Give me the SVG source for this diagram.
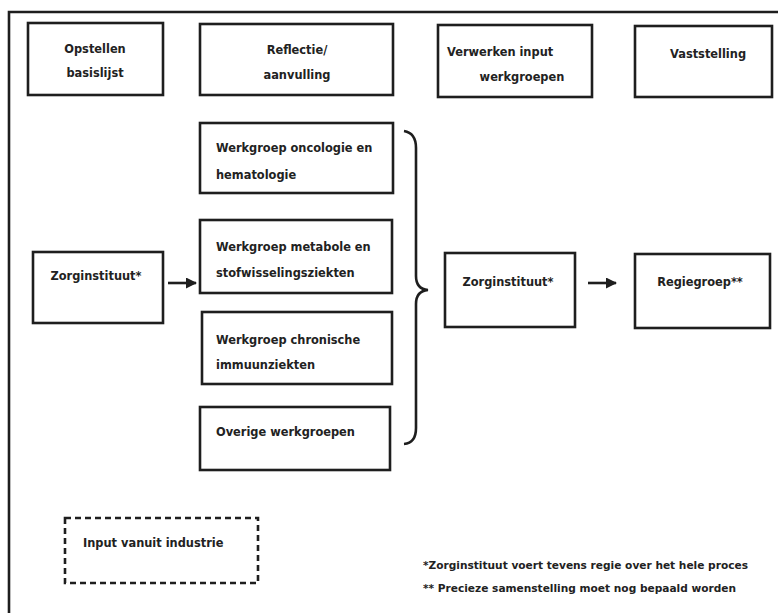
<svg xmlns="http://www.w3.org/2000/svg" width="778" height="613" viewBox="0 0 778 613">
<style>
.box{fill:#fff;stroke:#1e1e1e;stroke-width:2.6}
.dash{fill:#fff;stroke:#1e1e1e;stroke-width:2.6;stroke-dasharray:6 4}
.t{font-family:"DejaVu Sans","Liberation Sans",sans-serif;font-weight:bold;font-size:11.4px;fill:#222}
.c{text-anchor:middle}
.f{font-family:"DejaVu Sans","Liberation Sans",sans-serif;font-weight:bold;font-size:10.6px;fill:#222}
.ln{fill:none;stroke:#1e1e1e;stroke-width:2.6}
</style>
<defs>
<marker id="ah" markerWidth="11" markerHeight="11" refX="10" refY="5.5" orient="auto" markerUnits="userSpaceOnUse" viewBox="0 0 11 11">
<path d="M0,0 L11,5.5 L0,11 Z" fill="#1e1e1e"/>
</marker>
</defs>
<rect width="778" height="613" fill="#fff"/>
<g id="frame">
<path class="ln" d="M9,613 L9,12 L778,12"/>
</g>
<g id="h1"><rect class="box" x="28" y="23" width="135" height="72"/><text class="t c" x="95" y="53">Opstellen</text><text class="t c" x="95" y="77">basislijst</text></g>
<g id="h2"><rect class="box" x="200" y="24" width="193" height="71"/><text class="t c" x="297" y="54">Reflectie/</text><text class="t c" x="297" y="79">aanvulling</text></g>
<g id="h3"><rect class="box" x="438" y="25" width="154" height="72"/><text class="t" x="447" y="56">Verwerken input</text><text class="t c" x="522" y="81">werkgroepen</text></g>
<g id="h4"><rect class="box" x="635" y="26" width="137" height="71"/><text class="t" x="670" y="58">Vaststelling</text></g>
<g id="wg1"><rect class="box" x="200" y="123" width="193" height="70"/><text class="t" x="216" y="152">Werkgroep oncologie en</text><text class="t" x="216" y="179">hematologie</text></g>
<g id="wg2"><rect class="box" x="200" y="220" width="192" height="73"/><text class="t" x="216" y="251">Werkgroep metabole en</text><text class="t" x="216" y="277">stofwisselingsziekten</text></g>
<g id="wg3"><rect class="box" x="202" y="312" width="190" height="72"/><text class="t" x="216" y="344">Werkgroep chronische</text><text class="t" x="216" y="369">immuunziekten</text></g>
<g id="wg4"><rect class="box" x="200" y="407" width="190" height="63"/><text class="t" x="216" y="436">Overige werkgroepen</text></g>
<g id="zi1"><rect class="box" x="33" y="252" width="130" height="71"/><text class="t c" x="96" y="280">Zorginstituut*</text></g>
<g id="zi2"><rect class="box" x="445" y="253" width="130" height="74"/><text class="t c" x="508" y="286">Zorginstituut*</text></g>
<g id="rg"><rect class="box" x="635" y="254" width="135" height="74"/><text class="t c" x="700" y="286">Regiegroep**</text></g>
<g id="ind"><rect class="dash" x="65" y="518" width="193" height="65"/><text class="t" x="83" y="547">Input vanuit industrie</text></g>
<g id="connectors">
<line class="ln" x1="168" y1="283" x2="196" y2="283" marker-end="url(#ah)"/>
<line class="ln" x1="588" y1="283" x2="616" y2="283" marker-end="url(#ah)"/>
<path class="ln" d="M404,131 Q416,133 416,148 L416,276 Q416,289 428,290 Q416,291 416,304 L416,428 Q416,443 404,444"/>
</g>
<g id="notes">
<text class="f" x="423" y="569">*Zorginstituut voert tevens regie over het hele proces</text>
<text class="f" x="423" y="592">** Precieze samenstelling moet nog bepaald worden</text>
</g>
</svg>
